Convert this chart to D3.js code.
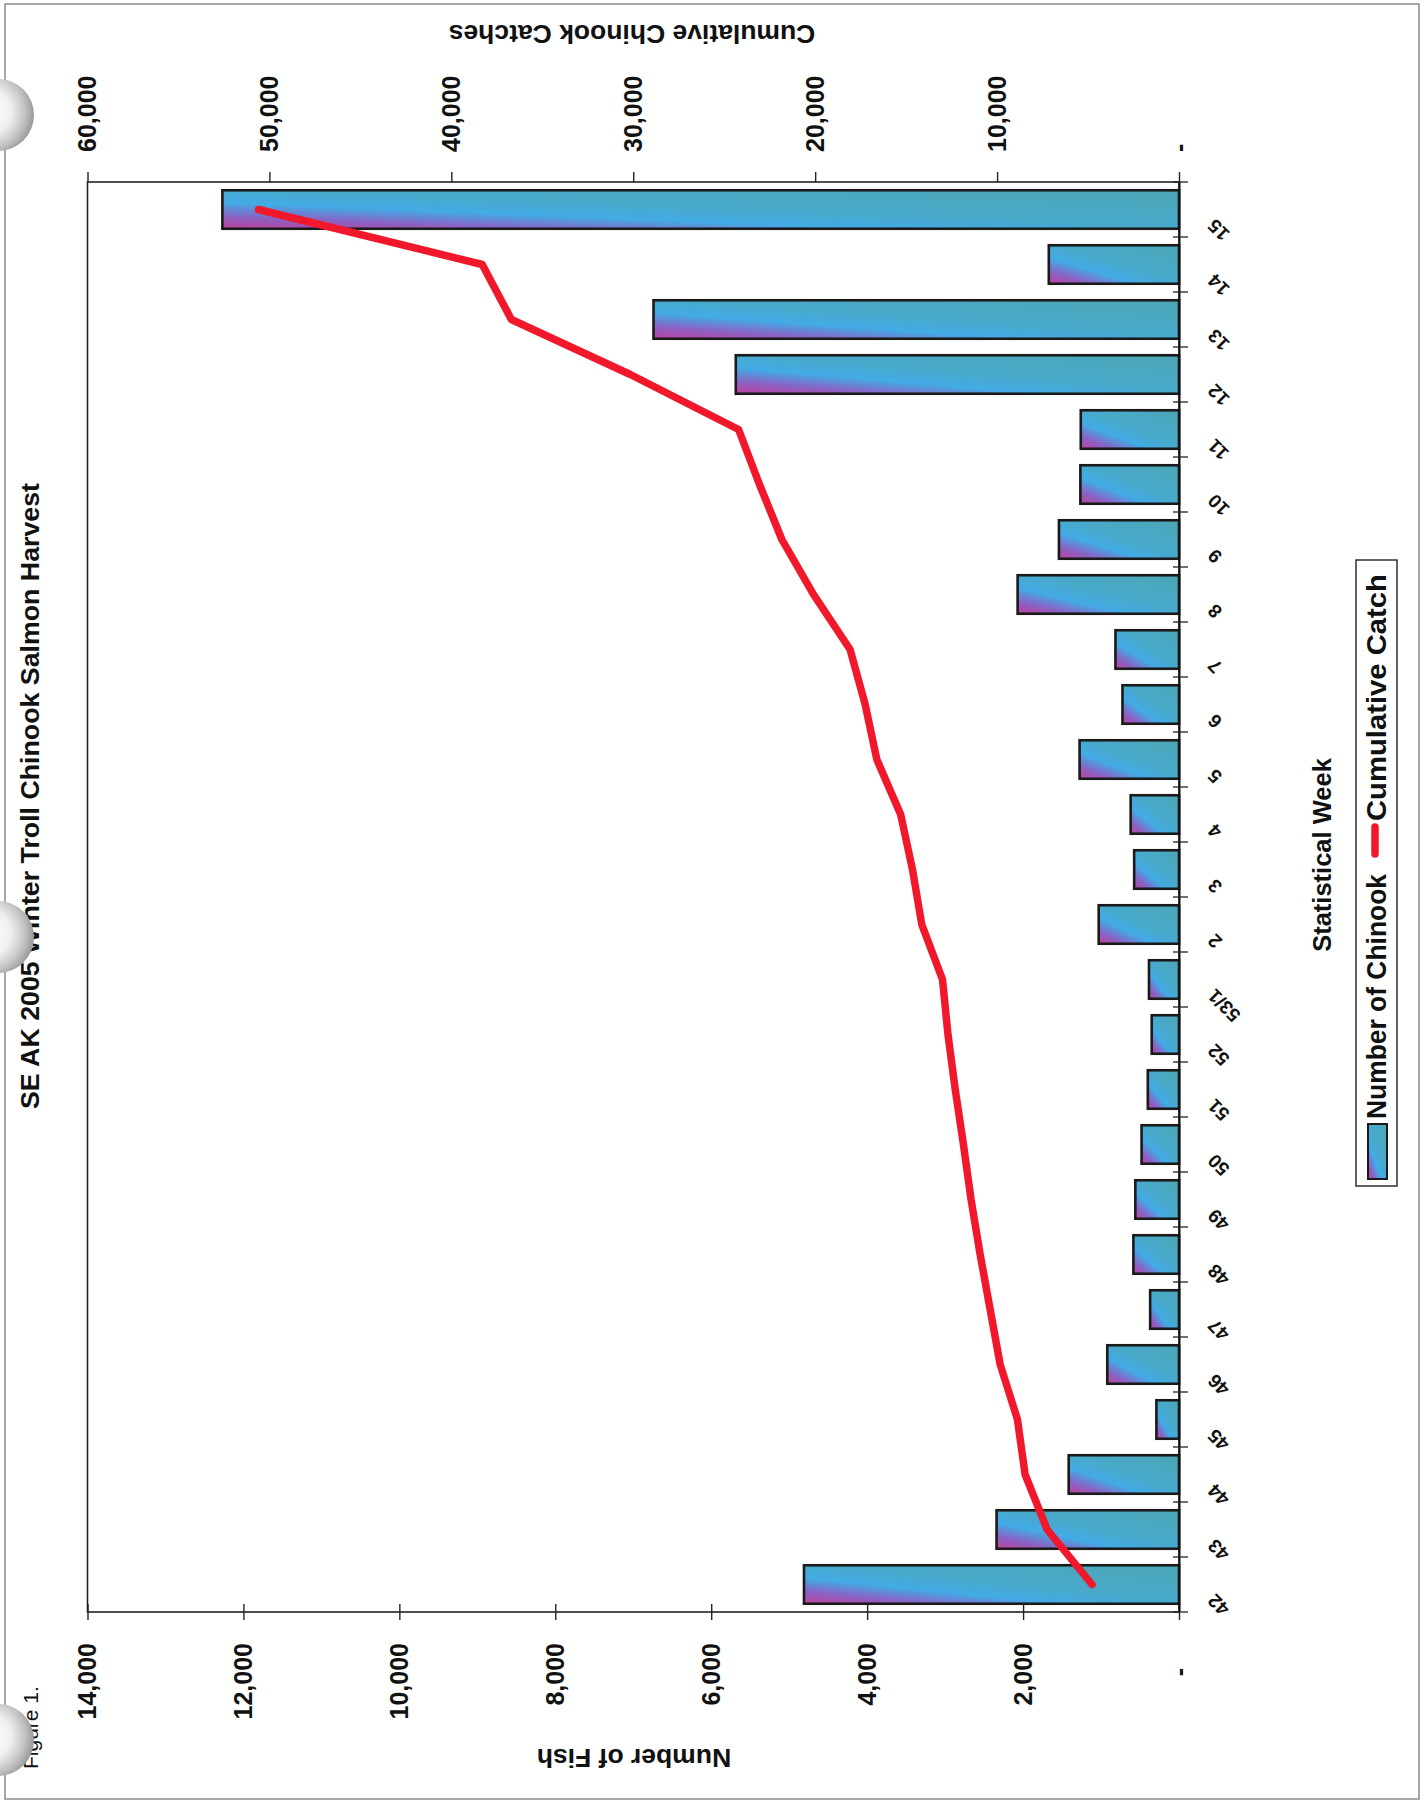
<!DOCTYPE html>
<html><head><meta charset="utf-8">
<script src="https://cdn.jsdelivr.net/npm/d3@7"></script>
<style>body{margin:0;background:#fff} svg{display:block}</style>
</head><body>
<svg id="c" width="1425" height="1802"></svg>
<script>
// ---------------- data ----------------
const weeks = ["42","43","44","45","46","47","48","49","50","51","52","53/1","2","3","4","5","6","7","8","9","10","11","12","13","14","15"];
const fishCounts = [4810, 2340, 1415, 290, 920, 370, 585, 560, 480, 400, 350, 385, 1030, 575, 620, 1275, 725, 815, 2070, 1540, 1265, 1260, 5685, 6740, 1670, 12270];
const cumulativeCatch = [4780, 7250, 8460, 8880, 9830, 10380, 10930, 11430, 11850, 12300, 12700, 13000, 14140, 14650, 15300, 16610, 17250, 18080, 20090, 21830, 23060, 24210, 30160, 36700, 38300, 50600];
const fishTicks = [0, 2000, 4000, 6000, 8000, 10000, 12000, 14000];
const cumTicks = [0, 10000, 20000, 30000, 40000, 50000, 60000];
const titleText = "SE AK 2005 Winter Troll Chinook Salmon Harvest";
const figureText = "Figure 1.";
const leftAxisTitle = "Number of Fish";
const rightAxisTitle = "Cumulative Chinook Catches";
const catAxisTitle = "Statistical Week";
const legendNames = ["Number of Chinook", "Cumulative Catch"];

// ---------------- setup ----------------
const svg = d3.select('#c');
const defs = svg.append('defs');
const grad = defs.append('linearGradient').attr('id','barGrad')
  .attr('x1',0).attr('y1',0).attr('x2',1).attr('y2',1);
[[0,'#c0409c'],[0.16,'#8a62c4'],[0.34,'#42abe6'],[0.52,'#48a9cc'],[1,'#4ba6b4']]
  .forEach(([o,c]) => grad.append('stop').attr('offset',o).attr('stop-color',c));
const hole = defs.append('radialGradient').attr('id','hole')
  .attr('cx',0.35).attr('cy',0.45).attr('r',0.65);
[[0,'#ffffff'],[0.5,'#f0f0f0'],[0.8,'#c4c4c4'],[1,'#9a9a9a']]
  .forEach(([o,c]) => hole.append('stop').attr('offset',o).attr('stop-color',c));

// page border (scan frame)
svg.append('rect').attr('x',5).attr('y',4).attr('width',1414).attr('height',1795)
  .attr('fill','none').attr('stroke','#8a8a8a').attr('stroke-width',1.5);

// rotated chart group (chart drawn in its own orientation, page turned 90°)
const g = svg.append('g').attr('transform','translate(0,1802) rotate(-90)');
const FONT = "'Liberation Sans', Arial, Helvetica, sans-serif";
const NARROW = "'Liberation Sans Narrow', 'Arial Narrow', 'Liberation Sans', Arial, sans-serif";

const plotL = 190, plotR = 1620, plotT = 87.5, plotB = 1179;
const x = d3.scaleBand().domain(weeks).range([plotL, plotR]).paddingInner(0.3).paddingOuter(0.15);
const yL = d3.scaleLinear().domain([0, 14000]).range([plotB, plotT]);
const yR = d3.scaleLinear().domain([0, 60000]).range([plotB, plotT]);

// plot area frame
g.append('rect').attr('x',plotL).attr('y',plotT).attr('width',plotR-plotL).attr('height',plotB-plotT)
  .attr('fill','#fff').attr('stroke','#222').attr('stroke-width',1.6);

// bars
g.append('g').selectAll('rect').data(weeks).join('rect')
  .attr('x', d => x(d))
  .attr('y', (d,i) => yL(fishCounts[i]))
  .attr('width', x.bandwidth())
  .attr('height', (d,i) => plotB - yL(fishCounts[i]))
  .attr('fill','url(#barGrad)').attr('stroke','#1a1a1a').attr('stroke-width',2.6);

// cumulative line
const line = d3.line().x((d,i) => x(weeks[i]) + x.bandwidth()/2).y(d => yR(d));
g.append('path').datum(cumulativeCatch).attr('d', line)
  .attr('fill','none').attr('stroke','#f2182b').attr('stroke-width',7.5)
  .attr('stroke-linejoin','round').attr('stroke-linecap','round');

// primary value axis (left in chart frame)
const fmt = d => d === 0 ? '-' : d3.format(',')(d);
const axL = g.append('g').attr('transform',`translate(${plotL},0)`)
  .call(d3.axisLeft(yL).tickValues(fishTicks).tickFormat(fmt).tickSize(8).tickPadding(23));
axL.select('.domain').remove();
axL.selectAll('.tick line').attr('x1',8).attr('x2',-8).attr('stroke','#222').attr('stroke-width',1.4);
axL.selectAll('.tick text').attr('font-family',FONT).attr('font-size',25).attr('font-weight','bold').attr('fill','#111');
axL.selectAll('.tick text').filter(d => d === 0).attr('x',-56);

// secondary value axis (right in chart frame)
const axR = g.append('g').attr('transform',`translate(${plotR},0)`)
  .call(d3.axisRight(yR).tickValues(cumTicks).tickFormat(fmt).tickSize(10).tickPadding(20));
axR.select('.domain').remove();
axR.selectAll('.tick line').attr('stroke','#222').attr('stroke-width',1.4);
axR.selectAll('.tick text').attr('font-family',FONT).attr('font-size',25).attr('font-weight','bold').attr('fill','#111');

// category axis
const axB = g.append('g').attr('transform',`translate(0,${plotB})`)
  .call(d3.axisBottom(x).tickSize(0));
axB.select('.domain').attr('stroke','#111').attr('stroke-width',2);
axB.selectAll('.tick text')
  .attr('x',0).attr('y',0).attr('dy','0.35em')
  .attr('text-anchor','end')
  .attr('transform','translate(-13,32) rotate(-45)')
  .attr('font-family',FONT).attr('font-size',19).attr('font-weight','bold').attr('fill','#111');
const step = x.step();
const boundaries = d3.range(weeks.length + 1).map(i => plotL + i*step);
axB.append('g').selectAll('line').data(boundaries).join('line')
  .attr('x1', d => d).attr('x2', d => d).attr('y1', -6).attr('y2', 9)
  .attr('stroke','#222').attr('stroke-width',1.3);

// titles
g.append('text').attr('x',1006).attr('y',39).attr('text-anchor','middle')
  .attr('font-family',NARROW).attr('font-size',26).attr('font-weight','bold')
  .attr('textLength',626).attr('lengthAdjust','spacingAndGlyphs').attr('fill','#111').text(titleText);
g.append('text').attr('x',33).attr('y',38)
  .attr('font-family',FONT).attr('font-size',21).attr('fill','#111').text(figureText);
g.append('text').attr('transform','translate(44,634) rotate(-90)')
  .attr('text-anchor','middle').attr('dominant-baseline','central')
  .attr('font-family',FONT).attr('font-size',26.5).attr('font-weight','bold').attr('fill','#111').text(leftAxisTitle);
g.append('text').attr('transform','translate(1768,632) rotate(-90)')
  .attr('text-anchor','middle').attr('dominant-baseline','central')
  .attr('font-family',FONT).attr('font-size',26.5).attr('font-weight','bold').attr('fill','#111').text(rightAxisTitle);
g.append('text').attr('x',947).attr('y',1322).attr('text-anchor','middle').attr('dominant-baseline','central')
  .attr('font-family',FONT).attr('font-size',25.5).attr('font-weight','bold').attr('fill','#111').text(catAxisTitle);

// legend
const lg = g.append('g');
lg.append('rect').attr('x',616).attr('y',1356).attr('width',626).attr('height',41)
  .attr('fill','#fff').attr('stroke','#222').attr('stroke-width',1.4);
lg.append('rect').attr('x',623).attr('y',1368).attr('width',55).attr('height',19)
  .attr('fill','url(#barGrad)').attr('stroke','#1a1a1a').attr('stroke-width',2);
lg.append('text').attr('x',683).attr('y',1377).attr('dominant-baseline','central')
  .attr('font-family',NARROW).attr('font-size',27).attr('font-weight','bold')
  .attr('textLength',245).attr('lengthAdjust','spacingAndGlyphs').attr('fill','#111').text(legendNames[0]);
lg.append('line').attr('x1',948).attr('x2',975).attr('y1',1375).attr('y2',1375)
  .attr('stroke','#f2182b').attr('stroke-width',7.5).attr('stroke-linecap','round');
lg.append('text').attr('x',981).attr('y',1377).attr('dominant-baseline','central')
  .attr('font-family',NARROW).attr('font-size',27).attr('font-weight','bold')
  .attr('textLength',247).attr('lengthAdjust','spacingAndGlyphs').attr('fill','#111').text(legendNames[1]);

// hole punches of the scanned page
[115, 937, 1740].forEach(cy => {
  svg.append('circle').attr('cx',-2).attr('cy',cy).attr('r',36).attr('fill','url(#hole)');
});
</script>
</body></html>
